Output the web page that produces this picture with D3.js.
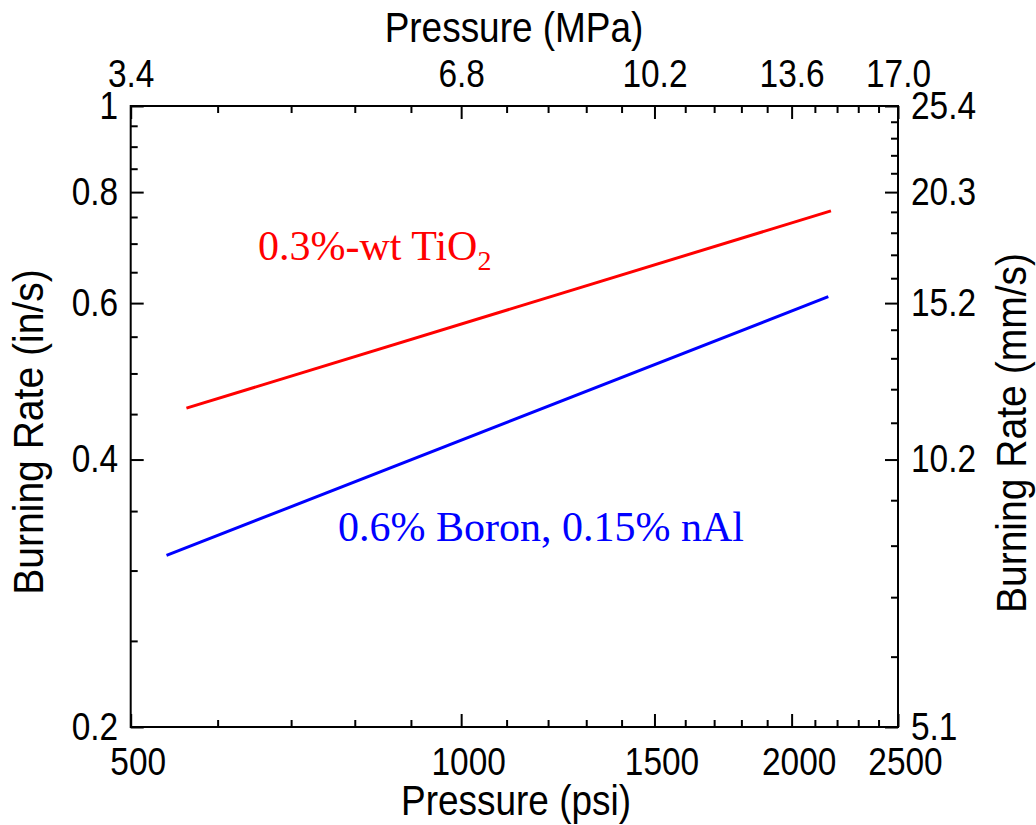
<!DOCTYPE html>
<html>
<head>
<meta charset="utf-8">
<script src="https://cdn.jsdelivr.net/npm/d3@7"></script>
<style>
  body { margin: 0; background: #fff; }
  svg text { font-family: "Liberation Sans", Arial, sans-serif; fill: #000; }
  .note { font-family: "Liberation Serif", "Times New Roman", serif; }
</style>
</head>
<body>
<div id="wrapper"></div>
<script>
// data (straight lines on log-log axes)
const tioPressure = [562, 2172];      // psi
const tioRate = [0.457, 0.762];       // in/s
const boronPressure = [539, 2160];
const boronRate = [0.312, 0.610];

const psiTicks = [500, 1000, 1500, 2000, 2500];
const mpaLabels = ["3.4", "6.8", "10.2", "13.6", "17.0"];
const rateTicks = [0.2, 0.4, 0.6, 0.8, 1];
const inLabels = ["0.2", "0.4", "0.6", "0.8", "1"];
const mmLabels = ["5.1", "10.2", "15.2", "20.3", "25.4"];

const series = [
  {x: tioPressure, y: tioRate, color: "#ff0000"},
  {x: boronPressure, y: boronRate, color: "#0000ff"}
];

const dimension = {
  width: 1036,
  height: 825,
  margin: {top: 106, right: 138, bottom: 98, left: 130.7}
};
dimension.boundedWidth = dimension.width - dimension.margin.left - dimension.margin.right;
dimension.boundedHeight = dimension.height - dimension.margin.top - dimension.margin.bottom;

const svg = d3.select("#wrapper")
  .append("svg")
  .attr("width", dimension.width)
  .attr("height", dimension.height);

const bounds = svg.append("g")
  .attr("transform", `translate(${dimension.margin.left},${dimension.margin.top})`);

const x = d3.scaleLog().domain([500, 2500]).range([0, dimension.boundedWidth]);
const y = d3.scaleLog().domain([0.2, 1]).range([dimension.boundedHeight, 0]);

const psiMinor = d3.range(600, 2500, 100).filter(d => d % 500 !== 0);
const inMinor = d3.range(0.25, 1, 0.05).filter(d => Math.abs(d * 5 - Math.round(d * 5)) > 1e-6);
const mmMinor = d3.range(0.24, 1, 0.04).filter(d => Math.abs(d * 5 - Math.round(d * 5)) > 1e-6);

const SX = 0.88;   // the figure's sans text is a bit narrow
const tickFont = 38;

function styleTicks(g, dx) {
  g.select(".domain").remove();
  g.selectAll(".tick line").attr("stroke", "#000").attr("stroke-width", 2);
  g.selectAll(".tick text")
    .attr("font-size", tickFont)
    .attr("font-family", null)
    .attr("transform", `scale(${SX},1)`)
    .attr("x", function () { return (+d3.select(this).attr("x") + (dx || 0)) / SX; });
}

// bottom axis
bounds.append("g")
  .attr("transform", `translate(0,${dimension.boundedHeight})`)
  .call(d3.axisBottom(x).tickValues(psiMinor).tickSize(-7).tickSizeOuter(0).tickFormat(""))
  .call(g => styleTicks(g));
bounds.append("g")
  .attr("transform", `translate(0,${dimension.boundedHeight})`)
  .call(d3.axisBottom(x).tickValues(psiTicks).tickSize(-13).tickSizeOuter(0).tickPadding(21).tickFormat(d3.format("d")))
  .call(g => styleTicks(g, 7));

// top axis (MPa)
bounds.append("g")
  .call(d3.axisTop(x).tickValues(psiMinor).tickSize(-7).tickSizeOuter(0).tickFormat(""))
  .call(g => styleTicks(g));
bounds.append("g")
  .call(d3.axisTop(x).tickValues(psiTicks).tickSize(-13).tickSizeOuter(0).tickPadding(19)
    .tickFormat((d, i) => mpaLabels[i]))
  .call(g => styleTicks(g));

// left axis (in/s)
bounds.append("g")
  .call(d3.axisLeft(y).tickValues(inMinor).tickSize(-7).tickSizeOuter(0).tickFormat(""))
  .call(g => styleTicks(g));
bounds.append("g")
  .call(d3.axisLeft(y).tickValues(rateTicks).tickSize(-13).tickSizeOuter(0).tickPadding(12.5)
    .tickFormat((d, i) => inLabels[i]))
  .call(g => styleTicks(g));

// right axis (mm/s)
bounds.append("g")
  .attr("transform", `translate(${dimension.boundedWidth},0)`)
  .call(d3.axisRight(y).tickValues(mmMinor).tickSize(-7).tickSizeOuter(0).tickFormat(""))
  .call(g => styleTicks(g));
bounds.append("g")
  .attr("transform", `translate(${dimension.boundedWidth},0)`)
  .call(d3.axisRight(y).tickValues(rateTicks).tickSize(-13).tickSizeOuter(0).tickPadding(13)
    .tickFormat((d, i) => mmLabels[i]))
  .call(g => styleTicks(g));

// frame
bounds.append("rect")
  .attr("width", dimension.boundedWidth)
  .attr("height", dimension.boundedHeight)
  .attr("fill", "none")
  .attr("stroke", "#000")
  .attr("stroke-width", 2);

// lines
const line = d3.line().x(d => x(d[0])).y(d => y(d[1]));
bounds.selectAll("path.series")
  .data(series)
  .enter()
  .append("path")
  .attr("class", "series")
  .attr("fill", "none")
  .attr("stroke", d => d.color)
  .attr("stroke-width", 3)
  .attr("d", d => line(d3.zip(d.x, d.y)));

// axis titles
function title(px, py, rot, sx, txt) {
  svg.append("text")
    .attr("transform", `translate(${px},${py}) rotate(${rot}) scale(${sx},1)`)
    .attr("text-anchor", "middle")
    .attr("font-size", 42)
    .text(txt);
}
title(514, 42, 0, SX, "Pressure (MPa)");
title(516, 815, 0, SX, "Pressure (psi)");
title(43, 432, -90, 0.93, "Burning Rate (in/s)");
title(1026, 433, -90, 0.93, "Burning Rate (mm/s)");

// annotations
const tio = svg.append("text")
  .attr("class", "note")
  .attr("x", 258)
  .attr("y", 260)
  .attr("font-size", 42)
  .attr("fill", "#ff0000")
  .style("fill", "#ff0000");
tio.append("tspan").text("0.3%-wt TiO");
tio.append("tspan").attr("font-size", 28).attr("dy", 10).text("2");

svg.append("text")
  .attr("class", "note")
  .attr("x", 338)
  .attr("y", 541)
  .attr("font-size", 42)
  .style("fill", "#0000ff")
  .text("0.6% Boron, 0.15% nAl");
</script>
</body>
</html>
